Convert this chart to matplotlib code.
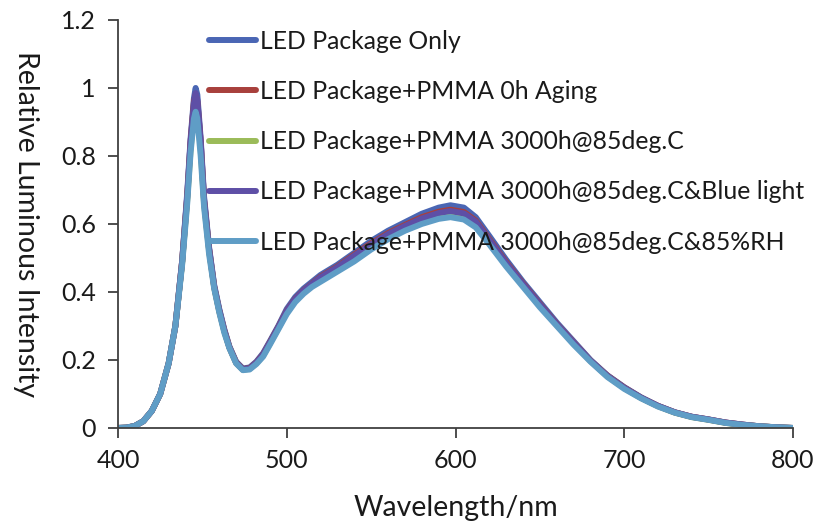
import matplotlib
matplotlib.use("Agg")
import matplotlib.pyplot as plt
from matplotlib.ticker import FuncFormatter

wavelength = [400, 405, 410, 415, 420, 425, 430, 434, 438, 441, 443, 445, 446, 447, 449, 451,
              454, 457, 460, 463, 466, 470, 474, 478, 482, 486, 490, 495, 500, 505, 510, 515,
              520, 530, 540, 550, 560, 570, 580, 590, 597, 605, 612, 620, 630, 640, 650, 660,
              670, 680, 690, 700, 710, 720, 730, 740, 750, 760, 770, 780, 790, 800]

led_only = [0, 0.001, 0.006, 0.02, 0.05, 0.10, 0.19, 0.30, 0.49, 0.69, 0.85, 0.97, 1.00, 0.98, 0.85, 0.68,
            0.53, 0.42, 0.35, 0.29, 0.24, 0.195, 0.175, 0.178, 0.195, 0.22, 0.255, 0.30, 0.35, 0.385, 0.41, 0.43,
            0.45, 0.48, 0.515, 0.55, 0.58, 0.605, 0.63, 0.648, 0.655, 0.648, 0.62, 0.565, 0.495, 0.43, 0.37, 0.31,
            0.255, 0.20, 0.155, 0.12, 0.09, 0.065, 0.046, 0.033, 0.025, 0.016, 0.010, 0.005, 0.002, 0]

pmma_0h = [0, 0.001, 0.006, 0.02, 0.05, 0.10, 0.19, 0.30, 0.49, 0.68, 0.84, 0.96, 0.98, 0.96, 0.84, 0.67,
           0.525, 0.415, 0.345, 0.287, 0.238, 0.193, 0.173, 0.176, 0.193, 0.217, 0.252, 0.297, 0.345, 0.38, 0.405, 0.425,
           0.445, 0.475, 0.51, 0.543, 0.573, 0.597, 0.62, 0.636, 0.642, 0.635, 0.61, 0.556, 0.488, 0.425, 0.365, 0.306,
           0.252, 0.198, 0.154, 0.119, 0.089, 0.065, 0.046, 0.033, 0.025, 0.016, 0.010, 0.005, 0.002, 0]

pmma_85c = [0, 0.001, 0.006, 0.02, 0.05, 0.10, 0.19, 0.30, 0.485, 0.67, 0.82, 0.93, 0.95, 0.93, 0.82, 0.66,
            0.52, 0.413, 0.343, 0.284, 0.236, 0.191, 0.171, 0.174, 0.19, 0.213, 0.248, 0.293, 0.34, 0.375, 0.4, 0.42,
            0.437, 0.467, 0.5, 0.534, 0.564, 0.588, 0.61, 0.625, 0.632, 0.625, 0.6, 0.548, 0.481, 0.42, 0.36, 0.303,
            0.249, 0.197, 0.152, 0.117, 0.088, 0.064, 0.045, 0.032, 0.024, 0.015, 0.009, 0.005, 0.002, 0]

pmma_85c_blue = [0, 0.001, 0.006, 0.02, 0.05, 0.10, 0.19, 0.30, 0.49, 0.68, 0.84, 0.955, 0.985, 0.965, 0.84, 0.67,
                 0.525, 0.416, 0.346, 0.286, 0.237, 0.192, 0.172, 0.175, 0.192, 0.216, 0.251, 0.296, 0.344, 0.379, 0.404, 0.424,
                 0.443, 0.473, 0.507, 0.54, 0.57, 0.594, 0.616, 0.632, 0.638, 0.631, 0.607, 0.553, 0.485, 0.423, 0.363, 0.305,
                 0.251, 0.198, 0.153, 0.118, 0.089, 0.065, 0.046, 0.033, 0.025, 0.016, 0.010, 0.005, 0.002, 0]

pmma_85c_rh = [0, 0.001, 0.006, 0.02, 0.05, 0.10, 0.19, 0.30, 0.48, 0.66, 0.81, 0.91, 0.93, 0.91, 0.80, 0.65,
               0.51, 0.41, 0.34, 0.28, 0.235, 0.19, 0.17, 0.172, 0.188, 0.21, 0.245, 0.29, 0.335, 0.37, 0.395, 0.415,
               0.43, 0.46, 0.49, 0.525, 0.555, 0.58, 0.60, 0.615, 0.62, 0.613, 0.59, 0.54, 0.475, 0.415, 0.355, 0.30,
               0.245, 0.195, 0.15, 0.115, 0.087, 0.063, 0.045, 0.032, 0.024, 0.015, 0.009, 0.005, 0.002, 0]

labels = ["LED Package Only",
          "LED Package+PMMA 0h Aging",
          "LED Package+PMMA 3000h@85deg.C",
          "LED Package+PMMA 3000h@85deg.C&Blue light",
          "LED Package+PMMA 3000h@85deg.C&85%RH"]
series = [led_only, pmma_0h, pmma_85c, pmma_85c_blue, pmma_85c_rh]
colors = ["#4A66B4", "#A8403C", "#9BBB59", "#5E4FA6", "#5F9DC6"]

x_ticks = [400, 500, 600, 700, 800]
y_ticks = [0, 0.2, 0.4, 0.6, 0.8, 1.0, 1.2]

plt.rcParams['font.family'] = ['Lato', 'DejaVu Sans']

fig = plt.figure(figsize=(8.15, 5.25), dpi=100)
ax = fig.add_axes([0.1448, 0.1848, 0.973 - 0.1448, 0.962 - 0.1848])

for vals, lab, col in zip(series, labels, colors):
    ax.plot(wavelength, vals, color=col, lw=4.3, label=lab, solid_capstyle='round', solid_joinstyle='round')

ax.set_xlim(400, 800)
ax.set_ylim(0, 1.2)
ax.set_xticks(x_ticks)
ax.set_yticks(y_ticks)
ax.yaxis.set_major_formatter(FuncFormatter(lambda v, p: f"{v:g}"))
for s in ['top', 'right']:
    ax.spines[s].set_visible(False)
for s in ['left', 'bottom']:
    ax.spines[s].set_color('#404040')
    ax.spines[s].set_linewidth(1.3)
ax.tick_params(direction='out', length=7, width=1.3, color='#404040', labelsize=18, labelcolor='#1a1a1a')
ax.tick_params(axis='x', pad=8)
ax.tick_params(axis='y', pad=9)

ax.set_xlabel("Wavelength/nm", fontsize=20.5, color='#1a1a1a', labelpad=17)
ax.set_ylabel("Relative Luminous Intensity", fontsize=20.5, color='#1a1a1a', labelpad=16,
              rotation=-90, va='top')

leg = ax.legend(loc='upper left', bbox_to_anchor=(0.12, 1.0), frameon=False, fontsize=17.8,
                handlelength=1.9, handletextpad=0.15, labelspacing=1.1, borderaxespad=0.0)
for t in leg.get_texts():
    t.set_color('#1a1a1a')

fig.savefig("out.png", dpi=100)
